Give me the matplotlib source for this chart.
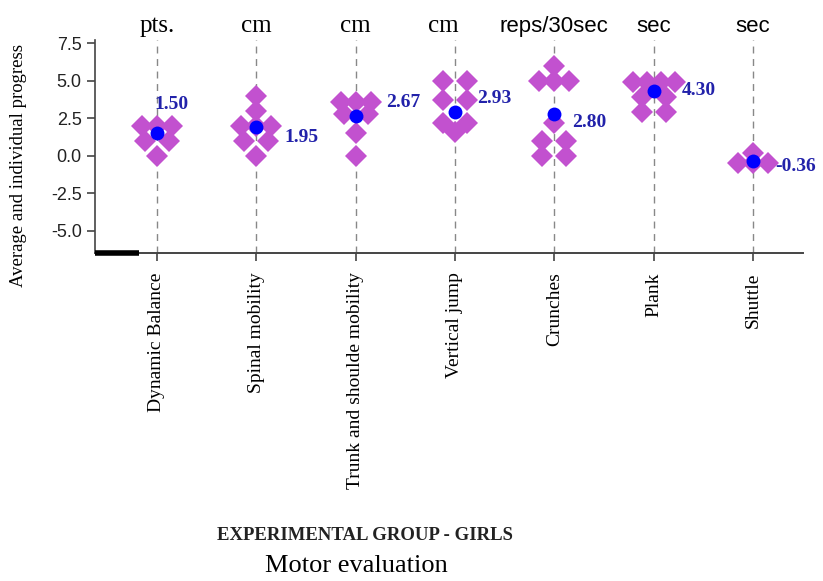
import numpy as np
import matplotlib
matplotlib.use('Agg')
import matplotlib.pyplot as plt

# Motor evaluation, experimental group (girls): individual progress and group average
tests = ['Dynamic Balance', 'Spinal mobility', 'Trunk and shoulde mobility',
         'Vertical jump', 'Crunches', 'Plank', 'Shuttle']
units = ['pts.', 'cm', 'cm', 'cm', 'reps/30sec', 'sec', 'sec']
averages = [1.50, 1.95, 2.67, 2.93, 2.80, 4.30, -0.36]

balance = [2, 2, 2, 1, 1, 0]
spinal = [4, 3, 2, 2, 2, 1, 1, 0]
trunk = [3.6, 3.6, 3.6, 2.8, 2.8, 1.5, 0]
jump = [5, 5, 3.7, 3.7, 2.2, 2.2, 1.6]
crunches = [6, 5, 5, 5, 2.2, 1, 1, 0, 0]
plank = [4.9, 4.9, 4.9, 4.9, 3.9, 3.9, 2.9, 2.9]
shuttle = [0.2, -0.5, -0.5, -0.5]
individual = [balance, spinal, trunk, jump, crunches, plank, shuttle]

# where the average labels sit relative to the dot (points) and unit label shifts
label_offsets = [(-2, 21), (20, -8), (22, 10), (16, 10), (13, -6), (20, 1), (16, -4)]
unit_shift = [0, 0, 0, -0.12, 0, 0, 0]
serif_units = [True, True, True, True, False, False, False]

half_width = {1: 0.0, 2: 0.12, 3: 0.15, 4: 0.21}

fig = plt.figure(figsize=(8.23, 5.81), dpi=100)
ax = fig.add_axes([0.1154, 0.5645, 0.8603, 0.3667])

x = np.arange(len(tests))
for i, vals in enumerate(individual):
    ax.axvline(i, color='#888888', lw=1, ls=(0, (5, 4)), zorder=1)
    vals = np.array(vals, dtype=float)
    for v in np.unique(vals):
        n = int(np.sum(vals == v))
        w = half_width.get(n, 0.07 * (n - 1))
        xs = i + np.linspace(-w, w, n)
        ax.plot(xs, [v] * n, 'D', color='#c251cf', ms=11.5, mew=0, zorder=2)

ax.plot(x, averages, 'o', color='#0000ff', ms=10, mew=0, ls='none', zorder=3)
for i, avg in enumerate(averages):
    dx, dy = label_offsets[i]
    ax.annotate(f'{avg:.2f}', (i, avg), xytext=(dx, dy), textcoords='offset points',
                ha='left', va='center', color='#2222aa', fontweight='bold',
                family='Liberation Serif', fontsize=14, zorder=4)
    if serif_units[i]:
        ax.text(i + unit_shift[i], 1.015, units[i], transform=ax.get_xaxis_transform(),
                ha='center', va='bottom', family='Liberation Serif', fontsize=18)
    else:
        ax.text(i + unit_shift[i], 1.015, units[i], transform=ax.get_xaxis_transform(),
                ha='center', va='bottom', family='Liberation Sans', fontsize=16)

ax.set_xlim(-0.624, 6.503)
ax.set_ylim(-6.47, 7.73)
ax.set_yticks([7.5, 5.0, 2.5, 0.0, -2.5, -5.0])
ax.set_yticklabels(['7.5', '5.0', '2.5', '0.0', '-2.5', '-5.0'],
                   family='Liberation Sans', fontsize=13, color='#222222')
ax.set_xticks(x)
ax.set_xticklabels(tests, rotation=90, va='top', ha='center',
                   family='Liberation Serif', fontsize=14)
ax.tick_params(axis='both', direction='out', length=6, width=1.2, color='#444444')
ax.tick_params(axis='x', pad=8)

for side in ['top', 'right']:
    ax.spines[side].set_visible(False)
ax.spines['left'].set_color('#444444')
ax.spines['bottom'].set_color('#444444')
ax.spines['left'].set_linewidth(1.2)
ax.spines['bottom'].set_linewidth(1.4)
ax.plot([0, 0.062], [0, 0], transform=ax.transAxes, color='black', lw=4,
        solid_capstyle='butt', clip_on=False, zorder=5)

fig.text(0.022, 0.716, 'Average and individual progress', rotation=90,
         ha='center', va='center', family='Liberation Serif', fontsize=13.5)
fig.text(0.4435, 1 - 535 / 581, 'EXPERIMENTAL GROUP - GIRLS', ha='center', va='center',
         family='Liberation Serif', fontweight='bold', fontsize=13.5, color='#222222')
fig.text(0.433, 1 - 566 / 581, 'Motor evaluation', ha='center', va='center',
         family='Liberation Serif', fontsize=19)

fig.savefig('out.png', dpi=100)
